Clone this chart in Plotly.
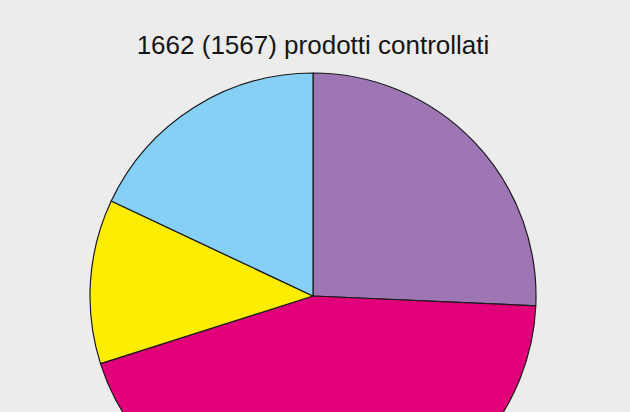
import plotly.graph_objects as go

categories = ["Categoria A", "Categoria B", "Categoria C", "Categoria D"]
values = [25.7, 44.4, 11.9, 18.0]
colors = ["#9e76b4", "#e2007a", "#ffed00", "#86cff5"]
title_text = "1662 (1567) prodotti controllati"

fig = go.Figure(
    go.Pie(
        labels=categories,
        values=values,
        sort=False,
        direction="clockwise",
        rotation=0,
        marker=dict(colors=colors, line=dict(color="#1a1a1a", width=1.2)),
        textinfo="none",
        hoverinfo="label+percent",
        showlegend=False,
        domain=dict(x=[0, 1], y=[0, 1]),
    )
)

H = 519
fig.update_layout(
    width=630,
    height=H,
    margin=dict(l=0, r=4, t=73, b=0),
    paper_bgcolor="#ececec",
    plot_bgcolor="#ececec",
    title=dict(
        text=title_text,
        x=313 / 630,
        xanchor="center",
        y=1 - 45 / H,
        yanchor="middle",
        yref="container",
        font=dict(family="Liberation Sans, Arial, sans-serif", size=26, color="#151515"),
    ),
)

fig.write_html(
    "out.html",
    config={"displayModeBar": False},
    post_script="document.body.style.margin='0';document.body.style.overflow='hidden';document.documentElement.style.overflow='hidden';document.body.style.background='#ececec';",
)
